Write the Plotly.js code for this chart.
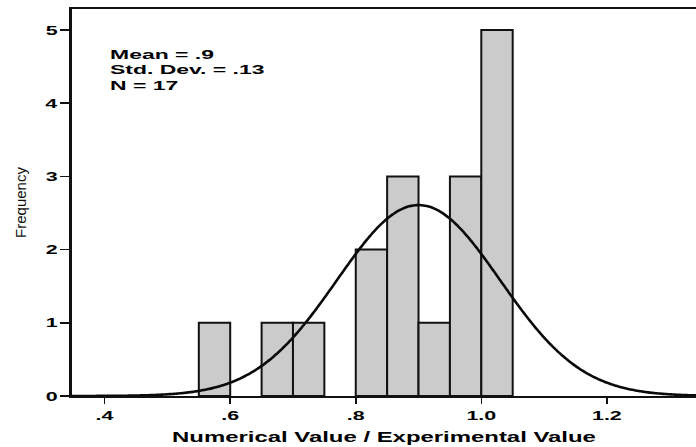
<!DOCTYPE html>
<html>
<head>
<meta charset="utf-8">
<script src="https://cdn.plot.ly/plotly-3.0.1.min.js"></script>
<style>
  html, body { margin: 0; padding: 0; background: #fff; }
  #chart { width: 696px; height: 447px; }
</style>
</head>
<body>
<div id="chart"></div>
<script>
// Histogram bins (lower edges) and their frequencies
const binLow = [0.55, 0.65, 0.70, 0.80, 0.85, 0.90, 0.95, 1.00];
const binCount = [1, 1, 1, 2, 3, 1, 3, 5];
const binWidth = 0.05;

// Summary statistics shown in the legend box
const statMean = 0.9;
const statSD = 0.13;
const statN = 17;
const meanLabel = '.9';
const sdLabel = '.13';

// Axis tick labels
const xTickVals = [0.4, 0.6, 0.8, 1.0, 1.2];
const xTickText = ['.4', '.6', '.8', '1.0', '1.2'];
const yTickVals = [0, 1, 2, 3, 4, 5];

const xRange = [0.348, 1.342];
const yRange = [0, 5.287];

// Fitted normal curve scaled to the histogram counts
const curveX = [];
const curveY = [];
const steps = 300;
for (let i = 0; i <= steps; i++) {
  const x = xRange[0] + (xRange[1] - xRange[0]) * i / steps;
  const z = (x - statMean) / statSD;
  curveX.push(x);
  curveY.push(statN * binWidth * Math.exp(-0.5 * z * z) / (statSD * Math.sqrt(2 * Math.PI)));
}

const FONT = 'Liberation Sans, Arial, sans-serif';

const bars = {
  type: 'bar',
  x: binLow,
  y: binCount,
  width: binWidth,
  offset: 0,
  marker: { color: '#cbcbcb', line: { color: '#111', width: 2 } },
  hoverinfo: 'skip'
};

const curve = {
  type: 'scatter',
  mode: 'lines',
  x: curveX,
  y: curveY,
  line: { color: '#0a0a0a', width: 2.6, shape: 'spline' },
  hoverinfo: 'skip'
};

const statFont = { family: FONT, size: 13.5, color: '#000' };
const statLines = ['Mean = ' + meanLabel, 'Std. Dev. = ' + sdLabel, 'N = ' + statN];
const statY = [0.8837, 0.8437, 0.8036];
const annotations = statLines.map(function (t, i) {
  return {
    text: '<b>' + t + '</b>', xref: 'paper', yref: 'paper',
    x: 0.058, y: statY[i], xanchor: 'left', yanchor: 'middle',
    showarrow: false, font: statFont
  };
});

const layout = {
  width: 696,
  height: 447,
  margin: { l: 72, r: 0, t: 9, b: 51 },
  paper_bgcolor: '#fff',
  plot_bgcolor: '#fff',
  showlegend: false,
  bargap: 0,
  xaxis: {
    range: xRange,
    tickvals: xTickVals,
    ticktext: xTickText,
    ticks: 'outside',
    ticklen: 6,
    tickwidth: 1.5,
    tickcolor: '#111',
    showline: true,
    linecolor: '#111',
    linewidth: 2,
    mirror: true,
    showgrid: false,
    zeroline: false,
    tickfont: { family: FONT, size: 13, color: '#000', weight: 'bold' },
    title: { text: '<b>Numerical Value / Experimental Value</b>', font: { family: FONT, size: 14.5, color: '#000' }, standoff: 10 }
  },
  yaxis: {
    range: yRange,
    tickvals: yTickVals,
    ticks: 'outside',
    ticklen: 9,
    tickwidth: 1.5,
    tickcolor: '#111',
    showline: true,
    linecolor: '#111',
    linewidth: 2.6,
    showgrid: false,
    zeroline: false,
    tickfont: { family: FONT, size: 13, color: '#000', weight: 'bold' },
    title: { text: 'Frequency', font: { family: FONT, size: 15, color: '#111' }, standoff: 21 }
  },
  annotations: annotations
};

// The horizontal labels use a wide face; stretch them sideways about their anchor.
function widen(nodes, k, anchor) {
  nodes.forEach(function (t) {
    const b = t.getBBox();
    const ax = anchor === 'start' ? b.x : (anchor === 'end' ? b.x + b.width : b.x + b.width / 2);
    const prev = t.getAttribute('transform') || '';
    t.setAttribute('transform', prev + ' translate(' + ax + ',0) scale(' + k + ',1) translate(' + (-ax) + ',0)');
  });
}

Plotly.newPlot('chart', [bars, curve], layout, { staticPlot: true, displayModeBar: false }).then(function (gd) {
  const k = 1.65;
  widen(gd.querySelectorAll('.xtick text'), k, 'middle');
  widen(gd.querySelectorAll('.ytick text'), k, 'end');
  widen(gd.querySelectorAll('.g-xtitle text'), k, 'middle');
  widen(gd.querySelectorAll('.annotation-text'), 1.7, 'start');
});
</script>
</body>
</html>
